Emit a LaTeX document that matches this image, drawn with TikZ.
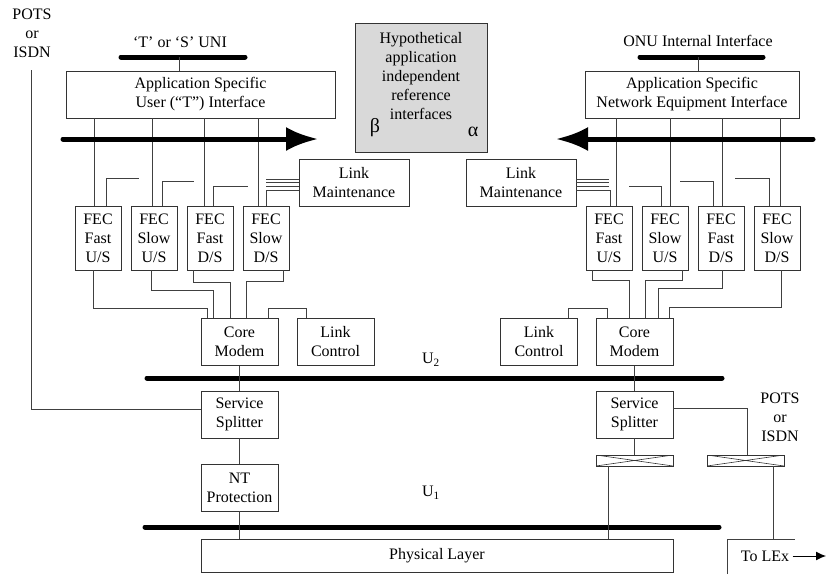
\documentclass[tikz,border=0pt]{standalone}
\usepackage{fontspec}
\setmainfont{Liberation Serif}
\usetikzlibrary{arrows.meta}
\usetikzlibrary{calc}

\begin{document}
\begin{tikzpicture}[x=1pt,y=-1pt,font=\fontsize{16}{19}\selectfont]

		\useasboundingbox (0,0) rectangle (827,574);

		\tikzset{box/.style = {draw=black!80,line width=0.9pt,align=center,inner sep=0pt,minimum height=47pt}}
		\tikzset{fec/.style = {box,minimum width=46pt,minimum height=64pt}}
		\tikzset{wire/.style = {draw=black!75,line width=0.9pt}}
		\tikzset{bus/.style = {line width=5pt,line cap=round}}
		\tikzset{bigarrow/.style = {line width=5pt,line cap=round,-{Latex[length=32pt,width=24pt]}}}
		\tikzset{xconn/.style = {draw=black!80,line width=0.8pt,minimum width=77pt,minimum height=11pt,inner sep=0pt,
				path picture={\draw[line width=0.6pt] (path picture bounding box.north west) -- (path picture bounding box.south east)
					(path picture bounding box.south west) -- (path picture bounding box.north east);}}}

		% top labels and interfaces
		\node (potsL) at (32,33) [align=center] {POTS\\or\\ISDN};
		\coordinate (potsLend) at (31,70);
		\node (uniLtxt) at (180,42) {‘T’ or ‘S’ UNI};
		\node (uniRtxt) at (698,41) {ONU Internal Interface};
		\coordinate (uniLa) at (121,57);
		\coordinate (uniLb) at (245,57);
		\coordinate (uniLt) at (179,57);
		\coordinate (uniRa) at (640,57);
		\coordinate (uniRb) at (763,57);
		\coordinate (uniRt) at (698,57);

		\node[box] (appU) at (200.5,94.5) [minimum width=269pt] {Application Specific\\User (“T”) Interface};
		\node[box] (appN) at (692,94.5) [minimum width=214pt] {Application Specific\\Network Equipment Interface};

		\node[box] (hyp) at (421,87.5) [fill=black!15,minimum width=132pt,minimum height=129pt] {};
		\node (hyptxt) at (421,76) [align=center] {Hypothetical\\application\\independent\\reference\\interfaces};
		\node (beta) at (375,128) {\fontsize{20}{20}\selectfont β};
		\node (alpha) at (473,132) {\fontsize{20}{20}\selectfont α};

		\coordinate (arLa) at (63,139);
		\coordinate (arLb) at (318,139);
		\coordinate (arRa) at (813,139);
		\coordinate (arRb) at (556,139);

		% FEC blocks
		\node[fec] (fecLa) at (98,238) {FEC\\Fast\\U/S};
		\node[fec] (fecLb) at (154,238) {FEC\\Slow\\U/S};
		\node[fec] (fecLc) at (210,238) {FEC\\Fast\\D/S};
		\node[fec] (fecLd) at (266,238) {FEC\\Slow\\D/S};
		\node[fec] (fecRa) at (609,238) {FEC\\Fast\\U/S};
		\node[fec] (fecRb) at (665,238) {FEC\\Slow\\U/S};
		\node[fec] (fecRc) at (721,238) {FEC\\Fast\\D/S};
		\node[fec] (fecRd) at (777,238) {FEC\\Slow\\D/S};

		\node[box] (lmL) at (354,182.5) [minimum width=110pt] {Link\\Maintenance};
		\node[box] (lmR) at (521,182.5) [minimum width=110pt] {Link\\Maintenance};

		\node[box] (cmL) at (239.5,342) [minimum width=77pt] {Core\\Modem};
		\node[box] (lcL) at (335.5,342) [minimum width=77pt] {Link\\Control};
		\node[box] (lcR) at (539,342) [minimum width=77pt] {Link\\Control};
		\node[box] (cmR) at (634.5,342) [minimum width=77pt] {Core\\Modem};

		\node (utwo) at (431,360) {U\textsubscript{2}};
		\node (uone) at (431,493) {U\textsubscript{1}};

		\node[box] (ssL) at (239.5,414.5) [minimum width=77pt] {Service\\Splitter};
		\node[box] (ntp) at (239.5,487.5) [minimum width=77pt] {NT\\Protection};
		\node[box] (ssR) at (634.5,414.5) [minimum width=77pt] {Service\\Splitter};
		\node (potsR) at (780,417) [align=center] {POTS\\or\\ISDN};
		\node[xconn] (cnA) at (634.5,460.5) {};
		\node[xconn] (cnB) at (745.5,460.5) {};

		\node[box] (phys) at (437,555.5) [minimum width=472pt,minimum height=33pt] {Physical Layer};
		\node (lex) at (765,556) {To LEx};
		\coordinate (lexA) at (727,574);
		\coordinate (lexB) at (727,539);
		\coordinate (lexC) at (795,539);
		\coordinate (lexArr) at (826,556);

		\coordinate (utwoA) at (147,378);
		\coordinate (utwoB) at (722,378);
		\coordinate (uoneA) at (145,527);
		\coordinate (uoneB) at (719,527);

		% buses and arrows
		\draw[bus] (uniLa) -- (uniLb);
		\draw[bus] (uniRa) -- (uniRb);
		\draw[bus] (utwoA) -- (utwoB);
		\draw[bus] (uoneA) -- (uoneB);

		\draw[wire] (uniLt) -- (uniLt |- appU.north);
		\draw[wire] (uniRt) -- (uniRt |- appN.north);

		% application interface to FEC
		\draw[wire] ($(fecLa.north)+(-4,0)$) -- ($(fecLa.north |- appU.south)+(-4,0)$);
		\draw[wire] ($(fecLb.north)+(-2,0)$) -- ($(fecLb.north |- appU.south)+(-2,0)$);
		\draw[wire] ($(fecLc.north)+(-6,0)$) -- ($(fecLc.north |- appU.south)+(-6,0)$);
		\draw[wire] ($(fecLd.north)+(-8,0)$) -- ($(fecLd.north |- appU.south)+(-8,0)$);
		\draw[wire] ($(fecRa.north)+(7,0)$) -- ($(fecRa.north |- appN.south)+(7,0)$);
		\draw[wire] ($(fecRb.north)+(5,0)$) -- ($(fecRb.north |- appN.south)+(5,0)$);
		\draw[wire] ($(fecRc.north)+(1,0)$) -- ($(fecRc.north |- appN.south)+(1,0)$);
		\draw[wire] ($(fecRd.north)+(3,0)$) -- ($(fecRd.north |- appN.south)+(3,0)$);

		\draw[bigarrow] (arLa) -- (arLb);
		\draw[bigarrow] (arRa) -- (arRb);

		% link maintenance
		\draw[wire] ($(fecLa.north)+(8,0)$) |- ++(33,-27);
		\draw[wire] ($(fecLb.north)+(8,0)$) |- ++(32,-24);
		\draw[wire] ($(fecLc.north)+(3,0)$) |- ++(35,-19);
		\draw[wire] (fecLd.north) |- ($(lmL.west)+(0,7.5)$);
		\draw[wire] ($(fecRa.north)+(1,0)$) |- ($(lmR.east)+(0,7.5)$);
		\draw[wire] ($(fecRb.north)+(-4,0)$) |- ++(-32,-19);
		\draw[wire] ($(fecRc.north)+(-8,0)$) |- ++(-33,-24);
		\draw[wire] ($(fecRd.north)+(-8,0)$) |- ++(-34,-27);
		\foreach \dy in {-3.5,0,3.5} {
			\draw[wire] ($(lmL.west)+(0,\dy)$) -- ++(-33,0);
			\draw[wire] ($(lmR.east)+(0,\dy)$) -- ++(33,0);
		}

		% FEC to core modem
		\draw[wire] ($(fecLa.south)+(-5,0)$) -- ++(0,38) -| ($(cmL.north)+(-32.5,0)$);
		\draw[wire] ($(fecLb.south)+(-3,0)$) -- ++(0,20) -| ($(cmL.north)+(-26.5,0)$);
		\draw[wire] ($(fecLc.south)+(-17,0)$) -- ++(0,12) -| ($(cmL.north)+(-9.5,0)$);
		\draw[wire] ($(fecLd.south)+(17,0)$) -- ++(0,11) -| ($(cmL.north)+(6.5,0)$);
		\draw[wire] ($(cmL.north)+(28.5,0)$) -- ++(0,-10) -| ($(lcL.north)+(-29.5,0)$);

		\draw[wire] ($(fecRa.south)+(-17,0)$) -- ++(0,10) -| ($(cmR.north)+(-5.5,0)$);
		\draw[wire] ($(fecRb.south)+(17,0)$) -- ++(0,10) -| ($(cmR.north)+(10.5,0)$);
		\draw[wire] ($(fecRc.south)+(1,0)$) -- ++(0,18) -| ($(cmR.north)+(23.5,0)$);
		\draw[wire] ($(fecRd.south)+(4,0)$) -- ++(0,37) -| ($(cmR.north)+(34.5,0)$);
		\draw[wire] ($(lcR.north)+(29,0)$) -- ++(0,-10) -| ($(cmR.north)+(-27.5,0)$);

		% down to the line
		\draw[wire] (cmL) -- (ssL);
		\draw[wire] (ssL) -- (ntp);
		\draw[wire] (ntp.south) -- (ntp.south |- phys.north);
		\draw[wire] (potsLend) |- ($(ssL.west)+(0,-5.5)$);

		\draw[wire] (cmR) -- (ssR);
		\draw[wire] (ssR) -- (cnA);
		\draw[wire] ($(cnA.south)+(-26.5,0)$) -- ($(cnA.south |- phys.north)+(-26.5,0)$);
		\draw[wire] ($(ssR.east)+(0,-6)$) -| ($(cnB.north)+(1.5,0)$);
		\draw[wire] ($(cnB.south)+(27.5,0)$) -- ($(cnB.south |- lexB)+(27.5,0)$);

		\draw[wire] (lexA) -- (lexB) -- (lexC);
		\draw[line width=1pt,-{Latex[length=10pt,width=9pt]}] (lex.east) -- (lexArr);

\end{tikzpicture}
\end{document}
